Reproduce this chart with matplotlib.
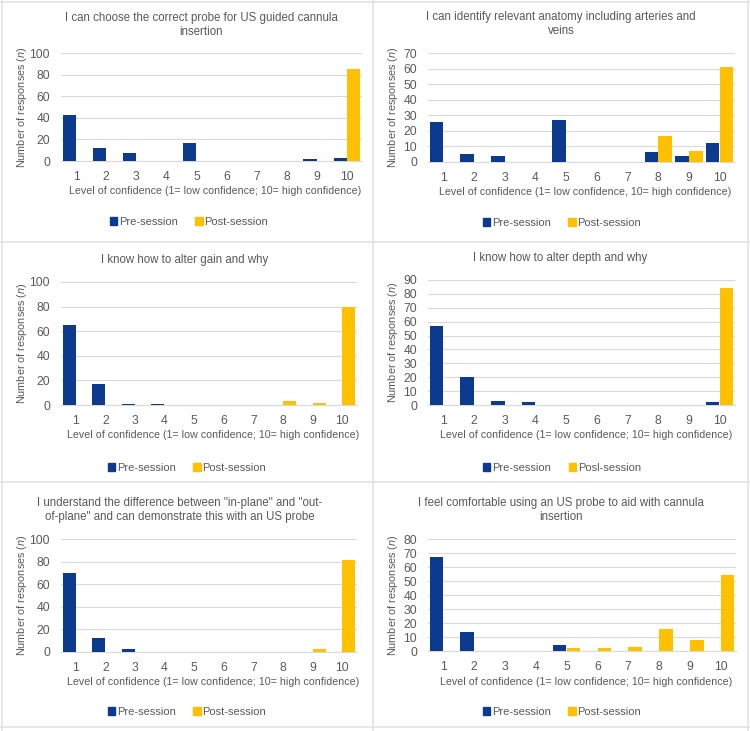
import matplotlib
matplotlib.use("Agg")
import matplotlib.pyplot as plt
from matplotlib.lines import Line2D
from matplotlib.patches import Patch
import numpy as np

plt.rcParams['font.family'] = ['Liberation Sans', 'DejaVu Sans']
plt.rcParams['mathtext.fontset'] = 'custom'
plt.rcParams['mathtext.it'] = 'Liberation Sans:italic'
plt.rcParams['mathtext.rm'] = 'Liberation Sans'

levels = [1, 2, 3, 4, 5, 6, 7, 8, 9, 10]

titles = [
    "I can choose the correct probe for US guided cannula\ninsertion",
    "I can identify relevant anatomy including arteries and\nveins",
    "I know how to alter gain and why",
    "I know how to alter depth and why",
    "I understand the difference between \"in-plane\" and \"out-\nof-plane\" and can demonstrate this with an US probe",
    "I feel comfortable using an US probe to aid with cannula\ninsertion",
]
xlabels = [
    "Level of confidence (1= low confidence; 10= high confidence)",
    "Level of confidence (1= low confidence, 10= high confidence)",
    "Level of confidence (1= low confidence; 10= high confidence)",
    "Level of confidence (1= low confidence; 10= high confidence)",
    "Level of confidence (1= low confidence; 10= high confidence)",
    "Level of confidence (1= low confidence; 10= high confidence)",
]
post_labels = ["Post-session", "Post-session", "Post-session", "Posl-session", "Post-session", "Post-session"]

pre_probe = [43, 12, 7.5, 0, 17, 0, 0, 0, 1.5, 3]
post_probe = [0, 0, 0, 0, 0, 0, 0, 0, 0, 85]
pre_anatomy = [26, 5, 4, 0, 27, 0, 0, 6.5, 4, 12]
post_anatomy = [0, 0, 0, 0, 0, 0, 0, 16.5, 7, 61]
pre_gain = [65, 17, 1, 1, 0, 0, 0, 0, 0, 0]
post_gain = [0, 0, 0, 0, 0, 0, 0, 3, 2, 80]
pre_depth = [57, 20.5, 3, 2, 0, 0, 0, 0, 0, 2]
post_depth = [0, 0, 0, 0, 0, 0, 0, 0, 0, 84]
pre_plane = [70, 12.5, 2.5, 0, 0, 0, 0, 0, 0, 0]
post_plane = [0, 0, 0, 0, 0, 0, 0, 0, 2.5, 81.5]
pre_comfort = [67, 13.5, 0, 0, 4.5, 0, 0, 0, 0, 0]
post_comfort = [0, 0, 0, 0, 2.5, 2.5, 3, 15.5, 8, 54]

pre_all = [pre_probe, pre_anatomy, pre_gain, pre_depth, pre_plane, pre_comfort]
post_all = [post_probe, post_anatomy, post_gain, post_depth, post_plane, post_comfort]
ymax = [100, 70, 100, 90, 100, 80]
ystep = [20, 10, 20, 10, 20, 10]

W, H = 750, 731
fig = plt.figure(figsize=(W / 100, H / 100), dpi=100)
fig.patch.set_facecolor('white')

# axes boxes in pixels: left, top, right, bottom
boxes = [
    (61, 53, 362, 161),
    (428, 53, 735, 162),
    (61, 282, 357, 405),
    (428, 280, 735, 405),
    (61, 539, 357, 652),
    (428, 539, 736, 651),
]
title_pos = [(201, 25), (561, 24), (185, 260), (560, 258), (180, 510), (561, 510)]
xlabel_pos = [(215, 191), (585, 192), (213, 435), (586, 435), (213, 682), (586, 682)]
legend_pos = [(189, 222), (562, 223), (187, 468), (562, 468), (187, 712), (562, 712)]
ylabel_x = [22, 393, 22, 393, 22, 393]

TXT = '#595959'
PRE = '#0b3a8e'
POST = '#ffc000'
GRID = '#d9d9d9'

x = np.array(levels)
bw = 0.44
for i in range(6):
    l, t, r, b = boxes[i]
    ax = fig.add_axes([l / W, 1 - b / H, (r - l) / W, (b - t) / H])
    ax.bar(x - bw / 2 - 0.005, pre_all[i], width=bw, color=PRE, zorder=3)
    ax.bar(x + bw / 2 + 0.005, post_all[i], width=bw, color=POST, zorder=3)
    ax.set_xlim(0.5, 10.5)
    ax.set_ylim(0, ymax[i])
    ax.set_yticks(np.arange(0, ymax[i] + 1, ystep[i]))
    ax.set_xticks(x)
    ax.set_xticklabels([str(v) for v in levels])
    ax.tick_params(axis='both', length=0, colors=TXT, labelsize=8.8)
    ax.tick_params(axis='y', pad=8)
    ax.tick_params(axis='x', pad=7)
    for s in ['top', 'right', 'left']:
        ax.spines[s].set_visible(False)
    ax.spines['bottom'].set_color(GRID)
    ax.grid(axis='y', color=GRID, linewidth=0.8, zorder=0)
    ax.set_axisbelow(True)
    tx, ty = title_pos[i]
    fig.text(tx / W, 1 - ty / H, titles[i], ha='center', va='center', fontsize=8.3,
             color=TXT, linespacing=1.2)
    lx, ly = xlabel_pos[i]
    fig.text(lx / W, 1 - ly / H, xlabels[i], ha='center', va='center', fontsize=7.7, color=TXT)
    fig.text(ylabel_x[i] / W, 1 - ((t + b) / 2) / H, r"Number of responses ($\it{n}$)",
             ha='center', va='center', rotation=90, fontsize=7.8, color=TXT)
    gx, gy = legend_pos[i]
    handles = [Patch(color=PRE), Patch(color=POST)]
    fig.legend(handles, ["Pre-session", post_labels[i]], loc='center',
               bbox_to_anchor=(gx / W, 1 - gy / H), ncol=2, frameon=False,
               handlelength=0.65, handleheight=0.65, handletextpad=0.15,
               columnspacing=1.6, fontsize=8, labelcolor=TXT)

# panel separators
SEP = '#e3e3e3'
fig.add_artist(Line2D([373 / W, 373 / W], [0, 1], color=SEP, lw=1.2))
fig.add_artist(Line2D([0, 1], [1 - 242 / H, 1 - 242 / H], color=SEP, lw=1.2))
fig.add_artist(Line2D([0, 1], [1 - 482 / H, 1 - 482 / H], color=SEP, lw=1.2))
fig.add_artist(Line2D([0, 1], [1 - 727 / H, 1 - 727 / H], color=SEP, lw=1.2))
fig.add_artist(Line2D([748 / W, 748 / W], [0, 1], color=SEP, lw=1.2))
fig.add_artist(Line2D([2 / W, 2 / W], [0, 1], color=SEP, lw=1.2))
fig.add_artist(Line2D([0, 1], [1 - 2 / H, 1 - 2 / H], color=SEP, lw=1.2))

fig.savefig("out.png", dpi=100, facecolor='white')
